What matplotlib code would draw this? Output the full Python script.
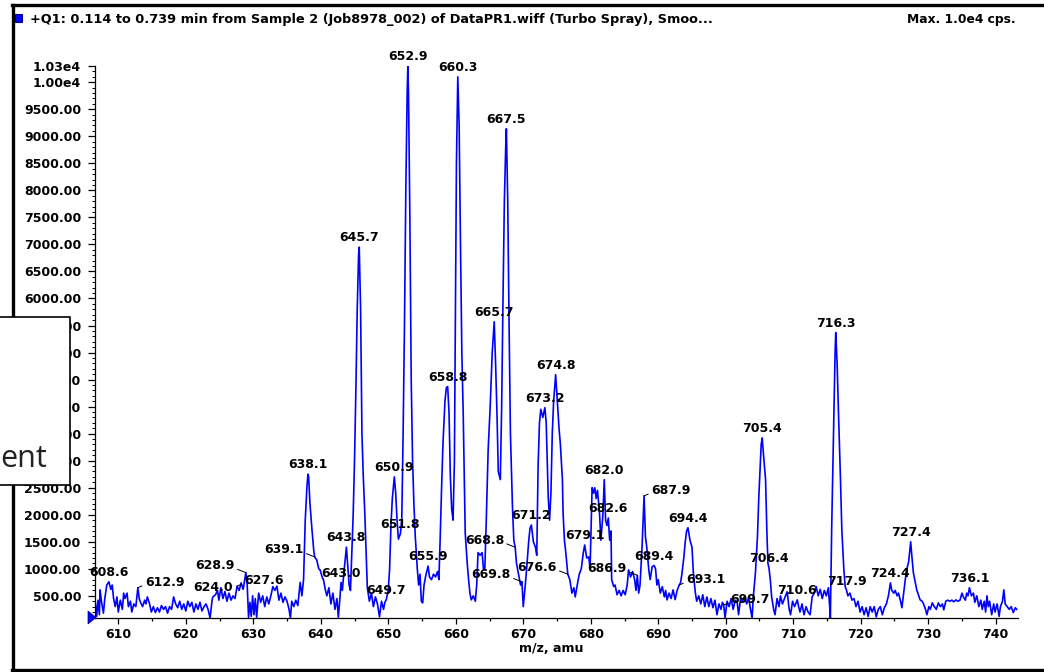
import numpy as np
import matplotlib
matplotlib.use("Agg")
import matplotlib.pyplot as plt
from matplotlib.ticker import MultipleLocator, FixedLocator, FixedFormatter
from matplotlib.patches import Rectangle, Polygon
from matplotlib.lines import Line2D

plt.rcParams['font.family'] = ['DejaVu Sans']

# spectrum (m/z, cps)
mz = [
    606.6, 606.8, 607.0, 607.2, 607.3, 607.5, 607.8, 608.0, 608.3, 608.6,
    608.9, 609.1, 609.3, 609.55, 609.8, 610.0, 610.3, 610.6, 610.8, 611.0,
    611.3, 611.5, 611.8, 612.0, 612.3, 612.6, 612.9, 613.1, 613.3, 613.6,
    613.9, 614.1, 614.3, 614.6, 614.9, 615.2, 615.5, 615.8, 616.1, 616.4,
    616.7, 617.0, 617.3, 617.6, 617.9, 618.2, 618.5, 618.8, 619.1, 619.4,
    619.7, 620.0, 620.3, 620.6, 620.9, 621.2, 621.5, 621.8, 622.1, 622.4,
    622.7, 623.0, 623.3, 623.6, 623.9, 624.0, 624.4, 624.7, 624.9, 625.2,
    625.5, 625.8, 626.1, 626.4, 626.7, 627.0, 627.3, 627.6, 627.9, 628.2,
    628.5, 628.9, 629.1, 629.3, 629.5, 629.7, 629.9, 630.1, 630.3, 630.5,
    630.8, 631.1, 631.4, 631.7, 632.0, 632.3, 632.6, 632.9, 633.2, 633.5,
    633.8, 634.1, 634.4, 634.7, 635.0, 635.3, 635.5, 635.7, 636.0, 636.3,
    636.6, 636.95, 637.2, 637.45, 637.7, 637.95, 638.1, 638.2, 638.4, 638.7,
    638.95, 639.1, 639.4, 639.7, 639.9, 640.2, 640.4, 640.7, 640.9, 641.2,
    641.5, 641.8, 642.1, 642.4, 642.6, 642.8, 643.0, 643.2, 643.4, 643.6,
    643.8, 644.0, 644.2, 644.4, 644.6, 644.8, 645.0, 645.2, 645.4, 645.6,
    645.7, 645.9, 646.1, 646.3, 646.5, 646.7, 646.9, 647.2, 647.5, 647.8,
    648.1, 648.4, 648.7, 649.0, 649.3, 649.5, 649.7, 650.0, 650.2, 650.4,
    650.6, 650.9, 651.1, 651.3, 651.5, 651.8, 652.0, 652.2, 652.4, 652.6,
    652.8, 652.9, 653.0, 653.2, 653.4, 653.6, 653.8, 654.0, 654.3, 654.5,
    654.7, 654.9, 655.1, 655.3, 655.6, 655.9, 656.1, 656.4, 656.7, 657.0,
    657.3, 657.5, 657.7, 657.9, 658.1, 658.4, 658.6, 658.8, 659.0, 659.2,
    659.4, 659.6, 659.8, 660.0, 660.1, 660.3, 660.5, 660.7, 660.9, 661.1,
    661.4, 661.7, 661.9, 662.1, 662.3, 662.6, 662.9, 663.1, 663.3, 663.6,
    663.9, 664.1, 664.3, 664.5, 664.8, 665.1, 665.4, 665.7, 665.9, 666.1,
    666.3, 666.6, 666.8, 667.0, 667.2, 667.4, 667.5, 667.7, 667.9, 668.1,
    668.4, 668.6, 668.8, 669.0, 669.3, 669.6, 669.8, 670.0, 670.3, 670.5,
    670.8, 671.0, 671.2, 671.5, 671.8, 672.0, 672.2, 672.4, 672.6, 672.9,
    673.2, 673.4, 673.7, 673.9, 674.1, 674.3, 674.5, 674.8, 675.1, 675.3,
    675.5, 675.8, 675.9, 676.1, 676.3, 676.6, 676.9, 677.2, 677.5, 677.7,
    678.0, 678.3, 678.6, 678.9, 679.1, 679.4, 679.7, 679.9, 680.2, 680.4,
    680.6, 680.8, 681.0, 681.3, 681.5, 681.8, 682.0, 682.2, 682.4, 682.6,
    682.8, 683.0, 683.1, 683.4, 683.6, 683.9, 684.2, 684.5, 684.8, 685.1,
    685.4, 685.6, 685.9, 686.2, 686.5, 686.7, 686.9, 687.1, 687.3, 687.6,
    687.9, 688.1, 688.3, 688.6, 688.8, 689.1, 689.4, 689.6, 689.8, 690.0,
    690.3, 690.6, 690.9, 691.1, 691.3, 691.6, 691.9, 692.2, 692.5, 692.8,
    693.1, 693.3, 693.5, 693.8, 694.0, 694.2, 694.4, 694.7, 695.0, 695.2,
    695.5, 695.7, 696.0, 696.3, 696.6, 696.9, 697.2, 697.5, 697.8, 698.1,
    698.4, 698.7, 699.0, 699.3, 699.5, 699.7, 699.9, 700.2, 700.5, 700.8,
    701.1, 701.4, 701.7, 701.9, 702.2, 702.5, 702.8, 703.1, 703.4, 703.6,
    703.9, 704.1, 704.4, 704.7, 704.9, 705.1, 705.25, 705.4, 705.6, 705.9,
    706.1, 706.25, 706.4, 706.6, 706.8, 707.1, 707.3, 707.6, 707.9, 708.1,
    708.4, 708.7, 709.1, 709.4, 709.6, 709.9, 710.2, 710.6, 710.8, 711.0,
    711.3, 711.6, 711.9, 712.2, 712.5, 712.8, 713.1, 713.4, 713.7, 714.0,
    714.3, 714.6, 714.9, 715.2, 715.4, 715.5, 715.7, 716.0, 716.2, 716.3,
    716.5, 716.7, 716.9, 717.0, 717.2, 717.5, 717.7, 717.9, 718.1, 718.4,
    718.7, 719.0, 719.3, 719.6, 719.9, 720.2, 720.5, 720.8, 721.1, 721.4,
    721.7, 722.0, 722.3, 722.6, 722.9, 723.2, 723.5, 723.8, 724.1, 724.4,
    724.6, 724.9, 725.1, 725.4, 725.6, 725.9, 726.1, 726.4, 726.6, 726.8,
    727.1, 727.4, 727.6, 727.8, 728.1, 728.3, 728.6, 728.8, 729.1, 729.3,
    729.6, 729.8, 730.1, 730.3, 730.6, 730.9, 731.2, 731.5, 731.8, 732.1,
    732.3, 732.6, 732.9, 733.2, 733.5, 733.8, 734.1, 734.4, 734.7, 735.0,
    735.2, 735.5, 735.7, 735.9, 736.1, 736.4, 736.7, 736.9, 737.2, 737.5,
    737.8, 738.0, 738.3, 738.5, 738.7, 738.9, 739.1, 739.4, 739.7, 739.9,
    740.2, 740.5, 740.7, 741.0, 741.2, 741.4, 741.7, 742.0, 742.3, 742.6,
    742.9, 743.1,
]
cps = [
    380, 120, 420, 150, 610, 400, 180, 450, 700, 760,
    620, 700, 450, 300, 480, 200, 420, 250, 550, 450,
    550, 300, 400, 200, 350, 300, 650, 450, 380, 300,
    420, 350, 480, 370, 200, 300, 190, 280, 200, 320,
    250, 300, 180, 300, 250, 480, 350, 280, 400, 250,
    350, 220, 400, 300, 380, 200, 350, 250, 380, 220,
    300, 350, 250, 90, 420, 480, 520, 600, 420, 650,
    450, 580, 400, 550, 420, 500, 450, 680, 600, 740,
    620, 930, 700, 100, 380, 120, 500, 150, 450, 100,
    550, 380, 500, 300, 480, 350, 500, 670, 600, 680,
    420, 550, 380, 480, 400, 250, 90, 400, 300, 420,
    320, 750, 500, 800, 1900, 2520, 2750, 2700, 2200, 1720,
    1350, 1220, 1165, 1000, 980, 850, 795, 600, 500, 650,
    350, 550, 250, 450, 100, 400, 750, 600, 900, 1150,
    1400, 1050, 700, 600, 1300, 2000, 3000, 4300, 5800, 6800,
    6950, 5800, 3500, 2700, 2100, 1400, 650, 400, 550, 300,
    480, 350, 110, 400, 250, 380, 430, 600, 1000, 1800,
    2300, 2700, 2400, 1900, 1550, 1650, 1900, 3500, 5500, 8000,
    9800, 10300, 9800, 7500, 4500, 3000, 2200, 1600, 1000, 700,
    900, 400, 370, 700, 900, 1050, 850, 800, 900, 850,
    950, 800, 1600, 2500, 3300, 4100, 4350, 4370, 3900, 2700,
    2100, 1900, 3000, 6500, 8500, 10100, 9200, 7000, 5000, 3900,
    1665, 1100, 800, 550, 425, 500, 400, 700, 1300, 1250,
    1300, 1000, 980, 1800, 3200, 4000, 5000, 5570, 4800, 3900,
    2800, 2650, 4000, 6000, 7800, 8800, 9140, 7800, 5500, 3500,
    2150, 1530, 1400, 1100, 900, 700, 760, 300, 700, 1000,
    1500, 1750, 1810, 1500, 1400, 1250, 2900, 3700, 3950, 3800,
    3980, 3700, 2330, 1900, 2400, 3500, 4100, 4590, 4000, 3600,
    3300, 2650, 2030, 1530, 1300, 900, 800, 550, 650, 480,
    700, 900, 1000, 1300, 1440, 1200, 1220, 1000, 2500, 2400,
    2500, 2300, 2450, 2030, 1530, 2000, 2650, 1900, 1800, 1940,
    1530, 1700, 800, 670, 700, 520, 600, 500, 600, 520,
    700, 980, 850, 950, 800, 600, 880, 550, 700, 1400,
    2350, 1600, 1400, 980, 800, 1040, 1060, 1000, 700, 800,
    550, 670, 480, 600, 425, 550, 450, 610, 430, 600,
    700, 740, 900, 1220, 1500, 1700, 1760, 1530, 1400, 925,
    550, 400, 500, 350, 520, 300, 480, 300, 450, 280,
    420, 150, 350, 250, 380, 330, 90, 400, 300, 450,
    250, 420, 380, 150, 450, 400, 500, 350, 480, 300,
    90, 500, 925, 1600, 2330, 2890, 3300, 3420, 3100, 2650,
    1665, 1100, 1020, 800, 480, 250, 150, 450, 300, 500,
    350, 450, 575, 250, 150, 400, 300, 425, 300, 200,
    350, 150, 300, 200, 150, 480, 550, 670, 500, 620,
    450, 600, 500, 650, 300, 90, 1780, 3760, 5000, 5370,
    4800, 3900, 3100, 2650, 1720, 980, 670, 600, 500, 550,
    420, 450, 300, 400, 200, 300, 150, 280, 120, 300,
    200, 300, 110, 250, 300, 150, 280, 350, 500, 740,
    600, 550, 600, 500, 550, 400, 280, 600, 800, 980,
    1130, 1500, 1200, 925, 740, 610, 500, 425, 400, 350,
    250, 150, 300, 250, 370, 300, 250, 370, 300, 350,
    240, 400, 420, 400, 420, 390, 425, 400, 420, 550,
    480, 420, 550, 500, 650, 500, 550, 380, 500, 300,
    420, 250, 400, 200, 500, 300, 400, 150, 350, 200,
    350, 120, 300, 400, 610, 350, 300, 250, 300, 190,
    280, 250,
]

# labelled peaks
plain_peaks = [608.6, 624.0, 638.1, 643.0, 643.8, 645.7, 649.7, 650.9, 651.8,
               652.9, 655.9, 658.8, 660.3, 665.7, 667.5, 671.2, 673.2, 674.8,
               679.1, 682.0, 682.6, 689.4, 694.4, 705.4, 706.4, 710.6, 716.3,
               717.9, 724.4, 727.4, 736.1]
right_leader_peaks = [612.9, 627.6, 687.9, 693.1, 699.7]
left_leader_peaks = [628.9, 639.1, 668.8, 669.8, 676.6, 686.9]

xticks_major = [610, 620, 630, 640, 650, 660, 670, 680, 690, 700, 710, 720, 730, 740]
yticks_major = [500, 1000, 1500, 2000, 2500, 3000, 3500, 4000, 4500, 5000, 5500,
                6000, 6500, 7000, 7500, 8000, 8500, 9000, 9500, 10000, 10300]
ytick_labels = ['500.00', '1000.00', '1500.00', '2000.00', '2500.00', '3000.00',
                '3500.00', '4000.00', '4500.00', '5000.00', '5500.00', '6000.00',
                '6500.00', '7000.00', '7500.00', '8000.00', '8500.00', '9000.00',
                '9500.00', '1.00e4', '1.03e4']

title = "+Q1: 0.114 to 0.739 min from Sample 2 (Job8978_002) of DataPR1.wiff (Turbo Spray), Smoo..."
max_text = "Max. 1.0e4 cps."

W, H = 1044, 672
fig = plt.figure(figsize=(W / 100, H / 100), dpi=100)
ax = fig.add_axes([95 / W, 1 - 618 / H, (1018 - 95) / W, (618 - 66) / H])

mz = np.array(mz)
cps = np.array(cps)
ax.plot(mz, cps, color='#0000ff', lw=1.2)

ax.set_xlim(606.55, 743.3)
ax.set_ylim(90, 10300)

for s in ['top', 'right']:
    ax.spines[s].set_visible(False)
for s in ['left', 'bottom']:
    ax.spines[s].set_linewidth(0.9)

ax.xaxis.set_major_locator(FixedLocator(xticks_major))
ax.xaxis.set_minor_locator(MultipleLocator(5))
ax.yaxis.set_major_locator(FixedLocator(yticks_major))
ax.yaxis.set_major_formatter(FixedFormatter(ytick_labels))
ax.yaxis.set_minor_locator(MultipleLocator(100))
ax.tick_params(axis='x', which='major', length=4, width=0.9, pad=3, labelsize=9)
ax.tick_params(axis='x', which='minor', length=2.5, width=0.9)
ax.tick_params(axis='y', which='major', length=5, width=0.9, pad=5, labelsize=9)
ax.tick_params(axis='y', which='minor', length=2.5, width=0.7)
for lab in ax.get_xticklabels() + ax.get_yticklabels():
    lab.set_fontweight('bold')

def peak_height(p):
    return cps[np.argmin(np.abs(mz - p))]

lbl = dict(fontsize=9, fontweight='bold')
for p in plain_peaks:
    ax.annotate(f"{p:.1f}", (p, peak_height(p)), xytext=(0, 2),
                textcoords='offset points', ha='center', va='bottom', **lbl)
for p in right_leader_peaks:
    ax.annotate(f"{p:.1f}", (p, peak_height(p)), xytext=(5, 4),
                textcoords='offset points', ha='left', va='center',
                arrowprops=dict(arrowstyle='-', lw=0.7, color='black',
                                shrinkA=0, shrinkB=0, relpos=(0, 0.3)), **lbl)
for p in left_leader_peaks:
    ax.annotate(f"{p:.1f}", (p, peak_height(p)), xytext=(-8, 5),
                textcoords='offset points', ha='right', va='center',
                arrowprops=dict(arrowstyle='-', lw=0.7, color='black',
                                shrinkA=0, shrinkB=0, relpos=(1, 0.3)), **lbl)

fig.text(551 / W, 1 - 649 / H, "m/z, amu", ha='center', va='center',
         fontsize=9, fontweight='bold')

# header
fig.add_artist(Rectangle((15 / W, 1 - 22 / H), 7 / W, 8 / H, transform=fig.transFigure,
                         facecolor='#0000ff', edgecolor='#000080', lw=0.8))
fig.text(30 / W, 1 - 20 / H, title, ha='left', va='center', fontsize=9.3, fontweight='bold')
fig.text(1016 / W, 1 - 20 / H, max_text, ha='right', va='center', fontsize=8.8,
         fontweight='bold')

# origin marker
fig.add_artist(Polygon([[88 / W, 1 - 611 / H], [88 / W, 1 - 624 / H], [96 / W, 1 - 617.5 / H]],
                       closed=True, transform=fig.transFigure, facecolor='#0000ff',
                       edgecolor='#000080', lw=0.5))

# window frame
for xs, ys in [([12, W], [5, 5]), ([13, 13], [5, 670]), ([12, W], [670, 670])]:
    fig.add_artist(Line2D([x / W for x in xs], [1 - y / H for y in ys],
                          transform=fig.transFigure, color='black', lw=2.4))

# overlay box covering part of the y axis
fig.add_artist(Rectangle((-2 / W, 1 - 485 / H), 72 / W, 168 / H, transform=fig.transFigure,
                         facecolor='white', edgecolor='black', lw=1.2, zorder=10))
fig.text(47 / W, 1 - 467 / H, "ent", ha='right', va='baseline', fontsize=22,
         family='Open Sans', color='#222222', zorder=11)

plt.savefig('out.png', dpi=100)
